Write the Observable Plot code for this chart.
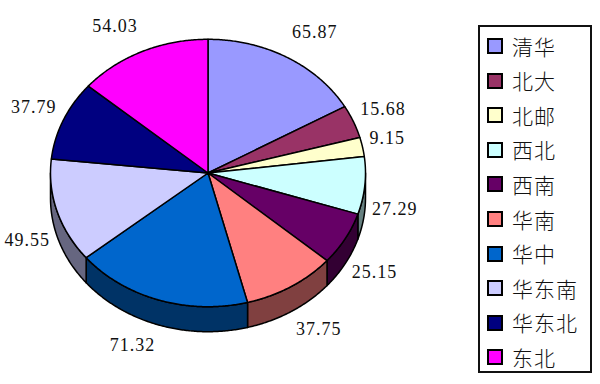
<!DOCTYPE html>
<html><head><meta charset="utf-8">
<script src="https://cdn.jsdelivr.net/npm/d3@7"></script>
<script src="https://cdn.jsdelivr.net/npm/@observablehq/plot@0.6"></script>
<style>
html,body{margin:0;padding:0;background:#fff}
body{width:600px;height:384px;overflow:hidden;position:relative}
#chart{position:absolute;left:0;top:0}
#legend{position:absolute;left:478px;top:25px;width:114px;height:348px;box-sizing:border-box;border:2px solid #111;padding-top:2px;background:#fff}
.row{height:34.55px;display:flex;align-items:center}
.sw{width:12px;height:12px;border:2px solid #000;margin-left:7px;margin-right:9px;flex:none}
.lb{font-family:"Noto Sans CJK SC",sans-serif;font-size:21px;letter-spacing:1px;color:#111;line-height:1;font-weight:300}
</style>
</head><body>
<div id="chart"></div>
<div id="legend"></div>
<script>
const categories = ["清华","北大","北邮","西北","西南","华南","华中","华东南","华东北","东北"];
const values = [65.87,15.68,9.15,27.29,25.15,37.75,71.32,49.55,37.79,54.03];
const colors = ["#9999FF","#993366","#FFFFCC","#CCFFFF","#660066","#FF8080","#0066CC","#CCCCFF","#000080","#FF00FF"];

// geometry (pixels)
const cx = 207.5, rx = 157.5, cy = 172.5, ry = 133.7, depthPx = 25;
const D = depthPx / ry;

const arcs = d3.pie().sort(null).value(d => d)(values);
const step = Math.PI / 360;

function arcPts(a0, a1) {
  const n = Math.max(2, Math.ceil((a1 - a0) / step));
  const out = [];
  for (let i = 0; i <= n; i++) {
    const a = a0 + (a1 - a0) * i / n;
    out.push([Math.sin(a), -Math.cos(a)]);
  }
  return out;
}

const tops = [], walls = [];
arcs.forEach((p, i) => {
  const pts = [[0, 0], ...arcPts(p.startAngle, p.endAngle), [0, 0]];
  pts.forEach(([x, y]) => tops.push({id: i, x, y, fill: colors[i]}));
  const w0 = Math.max(p.startAngle, Math.PI / 2), w1 = Math.min(p.endAngle, 3 * Math.PI / 2);
  if (w1 > w0) {
    const c = d3.rgb(colors[i]);
    const dark = d3.rgb(c.r * 0.5, c.g * 0.5, c.b * 0.5).formatHex();
    const a = arcPts(w0, w1);
    const poly = [...a, ...a.slice().reverse().map(([x, y]) => [x, y + D]), a[0]];
    poly.forEach(([x, y]) => walls.push({id: i, x, y, fill: dark}));
  }
});

const labels = arcs.map((p, i) => {
  const m = (p.startAngle + p.endAngle) / 2;
  const front = Math.cos(m) < 0;
  return {
    text: values[i].toFixed(2),
    x: 1.03 * Math.sin(m),
    y: -((ry + 24.5) * Math.cos(m)) / ry + (front ? D : 0),
    right: Math.sin(m) >= 0
  };
});

const plot = Plot.plot({
  width: 470, height: 384,
  margin: 0,
  x: {domain: [-1, 1], range: [cx - rx, cx + rx], axis: null},
  y: {domain: [-1, 1], range: [cy - ry, cy + ry], axis: null},
  color: {type: "identity"},
  style: {background: "#fff", letterSpacing: "1px"},
  marks: [
    Plot.line(walls, {x: "x", y: "y", z: "id", fill: "fill", stroke: "#000", strokeWidth: 1.5, curve: "linear"}),
    Plot.line(tops, {x: "x", y: "y", z: "id", fill: "fill", stroke: "#000", strokeWidth: 1.5, curve: "linear"}),
    Plot.text(labels.filter(d => d.right), {x: "x", y: "y", text: "text", textAnchor: "start", dx: 2.5, dy: -3.5, fontSize: 18, fontFamily: "Liberation Serif", fill: "#111"}),
    Plot.text(labels.filter(d => !d.right), {x: "x", y: "y", text: "text", textAnchor: "end", dx: -2.5, dy: -3.5, fontSize: 18, fontFamily: "Liberation Serif", fill: "#111"})
  ]
});
document.getElementById("chart").appendChild(plot);

const lg = document.getElementById("legend");
categories.forEach((c, i) => {
  const row = document.createElement("div");
  row.className = "row";
  const sw = document.createElement("div");
  sw.className = "sw";
  sw.style.background = colors[i];
  const lb = document.createElement("span");
  lb.className = "lb";
  lb.textContent = c;
  row.appendChild(sw); row.appendChild(lb);
  lg.appendChild(row);
});
</script>
</body></html>
